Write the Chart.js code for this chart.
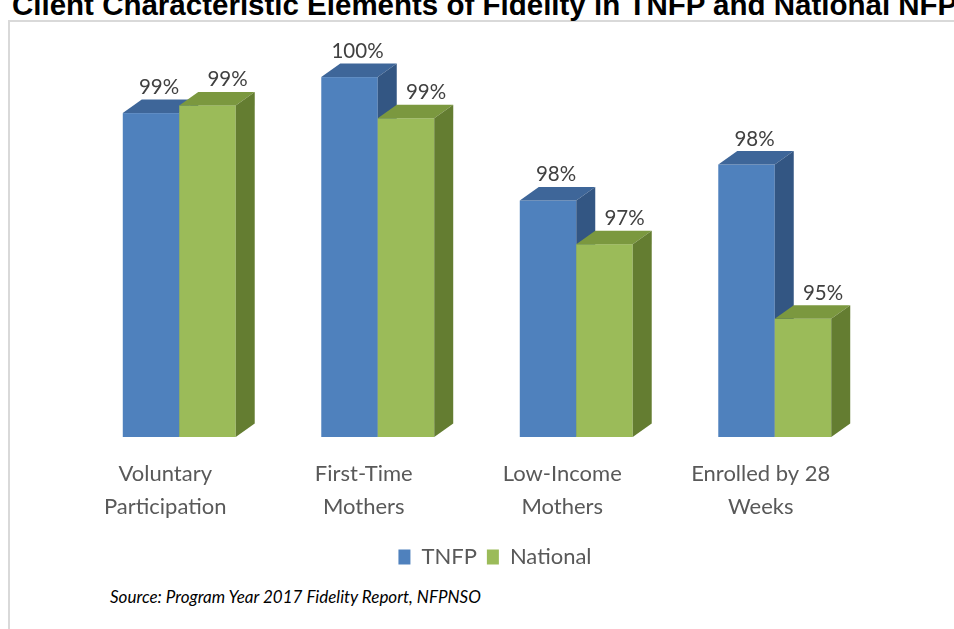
<!DOCTYPE html>
<html>
<head>
<meta charset="utf-8">
<script src="https://cdn.jsdelivr.net/npm/chart.js@4.4.1/dist/chart.umd.min.js"></script>
<style>
  html, body { margin: 0; padding: 0; background: #ffffff; }
  body { width: 954px; height: 629px; position: relative; overflow: hidden; }
  #title { position: absolute; left: 12px; top: -12.5px; white-space: nowrap;
           font-family: "Liberation Sans", Arial, sans-serif; font-weight: bold; font-size: 29.5px; color: #000; }
  #frame { position: absolute; left: 8px; top: 20px; width: 960px; height: 640px;
           border-left: 2px solid #d9d9d9; border-top: 2px solid #d9d9d9; }
  #wrap { position: absolute; left: 0; top: 0; width: 954px; height: 578px; }
  #source { position: absolute; left: 110px; top: 586px; white-space: nowrap;
            font-family: Lato, "Open Sans", sans-serif; font-style: italic; font-size: 17px; color: #000; }
</style>
</head>
<body>
<div id="frame"></div>
<div id="title">Client Characteristic Elements of Fidelity in TNFP and National NFP</div>
<div id="wrap"><canvas id="c"></canvas></div>
<div id="source">Source: Program Year 2017 Fidelity Report, NFPNSO</div>
<script>
// ---- data ----
const categories = [["Voluntary", "Participation"], ["First-Time", "Mothers"], ["Low-Income", "Mothers"], ["Enrolled by 28", "Weeks"]];
const seriesNames = ["TNFP", "National"];
const tnfpValues = [99.3, 100.0, 97.6, 98.3];
const nationalValues = [99.45, 99.2, 96.75, 95.3];

// ---- styles ----
const faceColors = [
  { front: "#4f81bd", top: "#3e6699", side: "#335683" },
  { front: "#9bbb59", top: "#7b983f", side: "#647d31" }
];
const DEPTH_X = 19, DEPTH_Y = 13.5;
const labelShift = [8, 20];
const LEGEND_SHIFT = 18;

const bars3d = {
  id: "bars3d",
  afterLayout(chart) {
    if (chart.legend) { chart.legend.left += LEGEND_SHIFT; chart.legend.right += LEGEND_SHIFT; }
  },
  beforeDatasetsDraw(chart) {
    const ctx = chart.ctx;
    const yScale = chart.scales.y;
    const basePx = yScale.getPixelForValue(yScale.min);
    const metas = chart.data.datasets.map((d, i) => chart.getDatasetMeta(i));
    const n = chart.data.labels.length;
    ctx.save();
    for (let i = 0; i < n; i++) {
      metas.forEach((meta, d) => {
        const el = meta.data[i];
        const p = el.getProps(["x", "y", "width"], true);
        const l = p.x - p.width / 2, r = p.x + p.width / 2, t = p.y, b = basePx;
        const c = faceColors[d];
        ctx.fillStyle = c.front;
        ctx.fillRect(l, t, r - l, b - t);
        ctx.fillStyle = c.top;
        ctx.beginPath();
        ctx.moveTo(l, t); ctx.lineTo(r, t); ctx.lineTo(r + DEPTH_X, t - DEPTH_Y); ctx.lineTo(l + DEPTH_X, t - DEPTH_Y);
        ctx.closePath(); ctx.fill();
        ctx.fillStyle = c.side;
        ctx.beginPath();
        ctx.moveTo(r, t); ctx.lineTo(r + DEPTH_X, t - DEPTH_Y); ctx.lineTo(r + DEPTH_X, b - DEPTH_Y); ctx.lineTo(r, b);
        ctx.closePath(); ctx.fill();
      });
    }
    // data labels
    ctx.font = "20.5px Lato, 'Open Sans', sans-serif";
    ctx.fillStyle = "#404040";
    ctx.textAlign = "center";
    ctx.textBaseline = "alphabetic";
    metas.forEach((meta, d) => {
      meta.data.forEach((el, i) => {
        const p = el.getProps(["x", "y"], true);
        const v = chart.data.datasets[d].data[i];
        ctx.fillText(Math.round(v) + "%", p.x + labelShift[d], p.y - 19);
      });
    });
    ctx.restore();
    return false;
  }
};

new Chart(document.getElementById("c"), {
  type: "bar",
  data: {
    labels: categories,
    datasets: [
      { label: seriesNames[0], data: tnfpValues, backgroundColor: faceColors[0].front },
      { label: seriesNames[1], data: nationalValues, backgroundColor: faceColors[1].front }
    ]
  },
  options: {
    responsive: true,
    maintainAspectRatio: false,
    animation: false,
    layout: { padding: { left: 80, right: 80, top: 51.4, bottom: 0 } },
    datasets: { bar: { barPercentage: 1.0, categoryPercentage: 0.569 } },
    scales: {
      x: {
        grid: { display: false },
        border: { display: false },
        ticks: { color: "#595959", font: { family: "Lato, 'Open Sans', sans-serif", size: 22, lineHeight: 1.5 }, padding: 12, labelOffset: -14, maxRotation: 0 },
        afterFit(scale) { scale.height = 99; }
      },
      y: {
        display: false,
        min: 93,
        max: 100.5
      }
    },
    plugins: {
      legend: {
        position: "bottom",
        labels: { color: "#595959", font: { family: "Lato, 'Open Sans', sans-serif", size: 22 }, boxWidth: 12, boxHeight: 15, padding: 10 }
      },
      tooltip: { enabled: false }
    }
  },
  plugins: [bars3d]
});
</script>
</body>
</html>
